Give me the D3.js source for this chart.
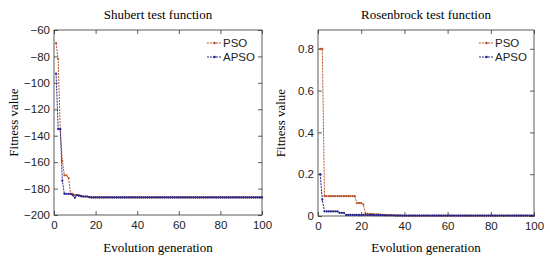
<!DOCTYPE html>
<html>
<head>
<meta charset="utf-8">
<script src="https://cdn.jsdelivr.net/npm/d3@7"></script>
<style>
  body { margin: 0; background: #fff; }
  svg { display: block; }
</style>
</head>
<body>
<svg id="chart"></svg>
<script>
// generations 1..100
const generations = d3.range(1, 101);

// Shubert test function
const shubertPSO = [
  -70, -82, -135, -159, -170, -170, -172, -184, -184, -185,
  -185, -185, -186, -186, -186, -186, -186.5, -186.7, -186.7, -186.7,
  -186.7, -186.7, -186.7, -186.7, -186.7, -186.7, -186.7, -186.7, -186.7, -186.7,
  -186.7, -186.7, -186.7, -186.7, -186.7, -186.7, -186.7, -186.7, -186.7, -186.7,
  -186.7, -186.7, -186.7, -186.7, -186.7, -186.7, -186.7, -186.7, -186.7, -186.7,
  -186.7, -186.7, -186.7, -186.7, -186.7, -186.7, -186.7, -186.7, -186.7, -186.7,
  -186.7, -186.7, -186.7, -186.7, -186.7, -186.7, -186.7, -186.7, -186.7, -186.7,
  -186.7, -186.7, -186.7, -186.7, -186.7, -186.7, -186.7, -186.7, -186.7, -186.7,
  -186.7, -186.7, -186.7, -186.7, -186.7, -186.7, -186.7, -186.7, -186.7, -186.7,
  -186.7, -186.7, -186.7, -186.7, -186.7, -186.7, -186.7, -186.7, -186.7, -186.7
];
const shubertAPSO = [
  -93, -135, -135, -174, -184, -184, -184, -184, -185, -187,
  -185, -185.5, -185.5, -186, -186, -186, -186.5, -186.7, -186.7, -186.7,
  -186.7, -186.7, -186.7, -186.7, -186.7, -186.7, -186.7, -186.7, -186.7, -186.7,
  -186.7, -186.7, -186.7, -186.7, -186.7, -186.7, -186.7, -186.7, -186.7, -186.7,
  -186.7, -186.7, -186.7, -186.7, -186.7, -186.7, -186.7, -186.7, -186.7, -186.7,
  -186.7, -186.7, -186.7, -186.7, -186.7, -186.7, -186.7, -186.7, -186.7, -186.7,
  -186.7, -186.7, -186.7, -186.7, -186.7, -186.7, -186.7, -186.7, -186.7, -186.7,
  -186.7, -186.7, -186.7, -186.7, -186.7, -186.7, -186.7, -186.7, -186.7, -186.7,
  -186.7, -186.7, -186.7, -186.7, -186.7, -186.7, -186.7, -186.7, -186.7, -186.7,
  -186.7, -186.7, -186.7, -186.7, -186.7, -186.7, -186.7, -186.7, -186.7, -186.7
];

// Rosenbrock test function
const rosenPSO = [
  0.8, 0.8, 0.095, 0.095, 0.095, 0.095, 0.095, 0.095, 0.095, 0.095,
  0.095, 0.095, 0.095, 0.095, 0.095, 0.095, 0.095, 0.062, 0.062, 0.062,
  0.055, 0.012, 0.01, 0.009, 0.009, 0.008, 0.008, 0.008, 0.007, 0.006,
  0.005, 0.004, 0.004, 0.004, 0.003, 0.003, 0.003, 0.003, 0.002, 0.002,
  0.002, 0.002, 0.002, 0.002, 0.002, 0.002, 0.002, 0.002, 0.002, 0.002,
  0.002, 0.002, 0.002, 0.002, 0.002, 0.002, 0.002, 0.002, 0.002, 0.002,
  0.002, 0.002, 0.002, 0.002, 0.002, 0.002, 0.002, 0.002, 0.002, 0.002,
  0.002, 0.002, 0.002, 0.002, 0.002, 0.002, 0.002, 0.002, 0.002, 0.002,
  0.002, 0.002, 0.002, 0.002, 0.002, 0.002, 0.002, 0.002, 0.002, 0.002,
  0.002, 0.002, 0.002, 0.002, 0.002, 0.002, 0.002, 0.002, 0.002, 0.002
];
const rosenAPSO = [
  0.2, 0.078, 0.022, 0.022, 0.022, 0.022, 0.022, 0.022, 0.022, 0.015,
  0.015, 0.015, 0.005, 0.005, 0.005, 0.005, 0.005, 0.005, 0.005, 0.005,
  0.005, 0.005, 0.005, 0.005, 0.005, 0.004, 0.004, 0.004, 0.004, 0.004,
  0.003, 0.003, 0.003, 0.003, 0.003, 0.002, 0.002, 0.002, 0.002, 0.002,
  0.002, 0.002, 0.002, 0.002, 0.002, 0.002, 0.002, 0.002, 0.002, 0.002,
  0.002, 0.002, 0.002, 0.002, 0.002, 0.002, 0.002, 0.002, 0.002, 0.002,
  0.002, 0.002, 0.002, 0.002, 0.002, 0.002, 0.002, 0.002, 0.002, 0.002,
  0.002, 0.002, 0.002, 0.002, 0.002, 0.002, 0.002, 0.002, 0.002, 0.002,
  0.002, 0.002, 0.002, 0.002, 0.002, 0.002, 0.002, 0.002, 0.002, 0.002,
  0.002, 0.002, 0.002, 0.002, 0.002, 0.002, 0.002, 0.002, 0.002, 0.002
];

const xTicks = [0, 20, 40, 60, 80, 100];
const shubertTicks = [-200, -180, -160, -140, -120, -100, -80, -60];
const rosenTicks = [0, 0.2, 0.4, 0.6, 0.8];
const seriesNames = ['PSO', 'APSO'];

const colors = { PSO: '#b8552a', APSO: '#24248c' };

const W = 550, H = 259;
const svg = d3.select('#chart').attr('width', W).attr('height', H);

function drawPanel(opt) {
  const x = d3.scaleLinear().domain([0, 100]).range([opt.left, opt.right]);
  const y = d3.scaleLinear().domain(opt.yDomain).range([opt.bottom, opt.top]);
  const g = svg.append('g');

  // axes, ticks pointing in (matlab box style)
  const axisFont = 'Liberation Sans, Arial, sans-serif';
  const bx = g.append('g').attr('transform', `translate(0,${opt.bottom})`)
    .call(d3.axisBottom(x).tickValues(xTicks).tickSizeInner(-4).tickSizeOuter(0).tickPadding(6));
  const tx = g.append('g').attr('transform', `translate(0,${opt.top})`)
    .call(d3.axisTop(x).tickValues(xTicks).tickSizeInner(-4).tickSizeOuter(0).tickFormat(''));
  const ly = g.append('g').attr('transform', `translate(${opt.left},0)`)
    .call(d3.axisLeft(y).tickValues(opt.yTicks).tickSizeInner(-4).tickSizeOuter(0).tickPadding(4)
      .tickFormat(opt.yFormat));
  const ry = g.append('g').attr('transform', `translate(${opt.right},0)`)
    .call(d3.axisRight(y).tickValues(opt.yTicks).tickSizeInner(-4).tickSizeOuter(0).tickFormat(''));
  [bx, tx, ly, ry].forEach(a => {
    a.select('.domain').remove();
    a.selectAll('line').attr('stroke', '#333').attr('stroke-width', 0.8);
    a.selectAll('text').attr('font-family', axisFont).attr('font-size', 11.5).attr('fill', '#222');
  });

  g.append('rect')
    .attr('x', opt.left).attr('y', opt.top)
    .attr('width', opt.right - opt.left).attr('height', opt.bottom - opt.top)
    .attr('fill', 'none').attr('stroke', '#333').attr('stroke-width', 0.8);

  const line = d3.line().x((d, i) => x(generations[i])).y(d => y(d));

  seriesNames.forEach(name => {
    const vals = opt.series[name];
    g.append('path')
      .attr('d', line(vals))
      .attr('fill', 'none')
      .attr('stroke', colors[name])
      .attr('stroke-width', 1)
      .attr('stroke-dasharray', '2,1');
    g.selectAll(null).data(vals).join('circle')
      .attr('cx', (d, i) => x(generations[i]))
      .attr('cy', d => y(d))
      .attr('r', 1.1)
      .attr('fill', colors[name]);
  });

  // title and labels
  const serif = 'Liberation Serif, Times New Roman, serif';
  g.append('text').attr('x', (opt.left + opt.right) / 2).attr('y', 19)
    .attr('text-anchor', 'middle').attr('font-family', serif).attr('font-size', 13)
    .text(opt.title);
  g.append('text').attr('x', (opt.left + opt.right) / 2).attr('y', 252)
    .attr('text-anchor', 'middle').attr('font-family', serif).attr('font-size', 13)
    .text('Evolution generation');
  g.append('text')
    .attr('transform', `translate(${opt.ylabelX},${(opt.top + opt.bottom) / 2}) rotate(-90)`)
    .attr('text-anchor', 'middle').attr('font-family', serif).attr('font-size', 13)
    .text('Fitness value');

  // legend
  const leg = g.append('g').attr('transform', `translate(${opt.right - 55},${opt.top + 13})`);
  seriesNames.forEach((name, i) => {
    const ly0 = i * 14;
    leg.append('line').attr('x1', 0).attr('x2', 15).attr('y1', ly0).attr('y2', ly0)
      .attr('stroke', colors[name]).attr('stroke-width', 1).attr('stroke-dasharray', '2,1');
    leg.append('circle').attr('cx', 7.5).attr('cy', ly0).attr('r', 1.3).attr('fill', colors[name]);
    leg.append('text').attr('x', 16).attr('y', ly0 + 4)
      .attr('font-family', axisFont).attr('font-size', 11.5).attr('fill', '#222')
      .text(name);
  });
}

drawPanel({
  left: 54, right: 262, top: 30, bottom: 215,
  yDomain: [-200, -60], yTicks: shubertTicks, yFormat: d3.format('d'),
  series: { PSO: shubertPSO, APSO: shubertAPSO },
  title: 'Shubert test function', ylabelX: 18
});

drawPanel({
  left: 318, right: 534, top: 30, bottom: 216,
  yDomain: [0, 0.89], yTicks: rosenTicks, yFormat: d => d === 0 ? '0' : d3.format('.1f')(d),
  series: { PSO: rosenPSO, APSO: rosenAPSO },
  title: 'Rosenbrock test function', ylabelX: 285
});
</script>
</body>
</html>
